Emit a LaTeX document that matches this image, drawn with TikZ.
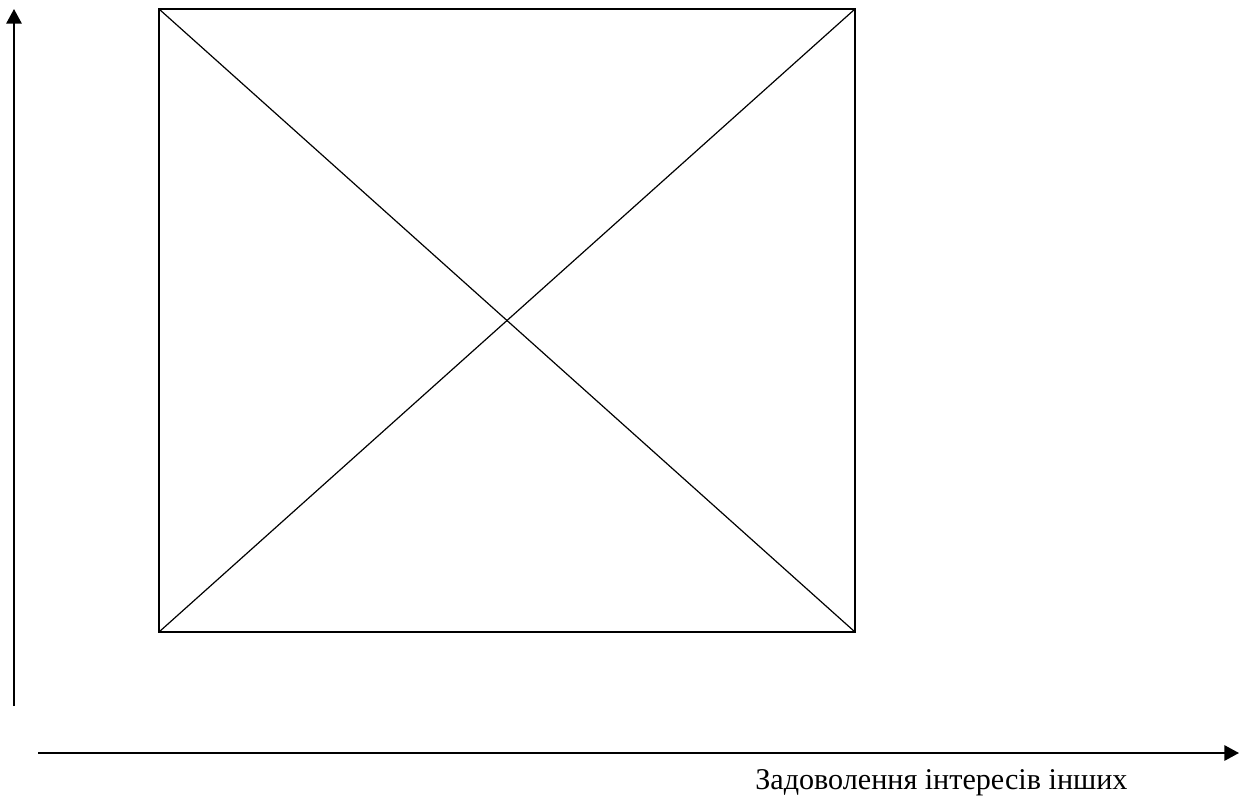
\documentclass[tikz,border=0pt]{standalone}
\usepackage{fontspec}
\setmainfont{Liberation Serif}
\usetikzlibrary{arrows.meta}

\begin{document}
\begin{tikzpicture}[
    x=0.75pt, y=-0.75pt,
    >={Triangle[length=11pt,width=11.5pt]},
    axis/.style={line width=1.5pt, ->},
    frame/.style={line width=1.3pt},
    diag/.style={line width=0.9pt},
  ]
\useasboundingbox (0,0) rectangle (1242,796);

% axes
\coordinate (yorig) at (14,706);
\coordinate (ytip) at (14,9);
\coordinate (xorig) at (38,753);
\coordinate (xtip) at (1239,753);
\draw[axis] (yorig) -- (ytip);
\draw[axis] (xorig) -- (xtip);

% square
\coordinate (tl) at (159,9);
\coordinate (tr) at (855,9);
\coordinate (br) at (855,632);
\coordinate (bl) at (159,632);
\draw[frame] (tl) -- (tr) -- (br) -- (bl) -- cycle;
\draw[diag] (tl) -- (br);
\draw[diag] (bl) -- (tr);

% axis label
\node[anchor=base west, inner sep=0pt, font=\fontsize{22.6}{27}\selectfont] (xlab)
  at (755,789) {Задоволення інтересів інших};

\end{tikzpicture}
\end{document}
